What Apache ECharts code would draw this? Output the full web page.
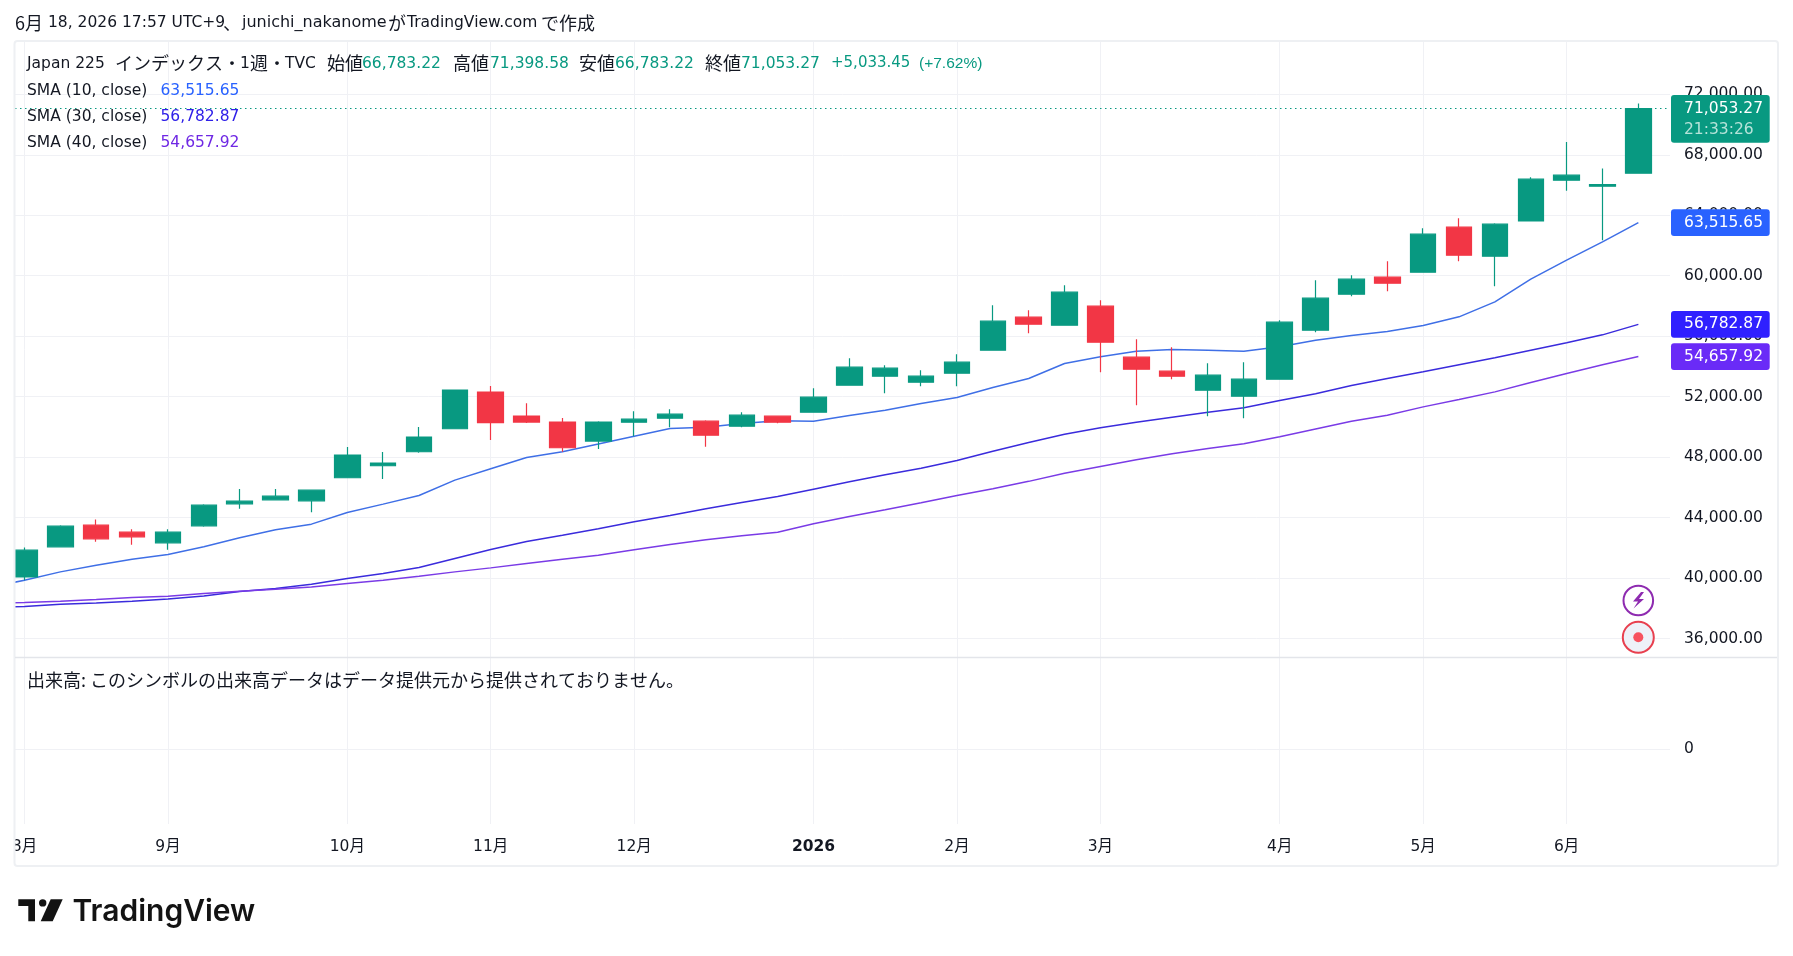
<!DOCTYPE html>
<html lang="ja">
<head>
<meta charset="utf-8">
<title>Japan 225 週足</title>
<script src="https://cdn.jsdelivr.net/npm/echarts@6/dist/echarts.min.js"></script>
<style>
  html, body { margin: 0; padding: 0; background: #fff; }
  #chart { width: 1793px; height: 956px; }
</style>
</head>
<body>
<div id="chart"></div>
<script>
// Weekly candles, oldest first
const opens = [40082,42069,43503,43040,42333,43459,44916,45180,45114,46637,47432,48358,49881,52309,50720,50323,49065,50313,50578,50379,50049,50710,50975,52761,53356,52959,53555,55076,57259,56730,57987,54613,53687,52430,52033,53158,56399,58781,59905,60236,63212,61294,63624,66320,65923,66783.22];
const closes = [41848,43437,42598,42730,43040,44827,45092,45423,45820,48138,47608,49330,52441,50279,50323,48623,50323,50512,50842,49453,50776,50313,51967,53951,53885,53356,54282,56994,56796,58913,55605,53819,53356,53422,53158,56928,58516,59773,59508,62749,61360,63411,66387,66652,66019.82,71053.27];
const lows = [39860,42069,42400,42200,41870,43393,44585,45180,44364,46637,46549,48292,49881,49131,50257,48358,48535,49387,49982,48681,49982,50247,50975,52761,52232,52695,52695,55076,56200,56730,53621,51438,53158,50710,50578,53158,56267,58648,58979,60236,60964,59310,63624,65613,62342,66783.22];
const highs = [42025,43503,43878,43238,43238,44893,45887,45887,45820,48668,48336,49992,52441,52706,51559,50588,50368,51041,51173,50445,50975,50710,52562,54547,54084,53753,54811,58053,57722,59376,58384,55803,55274,54216,54282,57060,59707,60037,60964,63146,63808,63477,66519,68840,67094,71398.58];

// Moving averages start one week before the first visible candle
const sma10 = [39376,39862,40413,40855,41252,41561,42069,42664,43194,43569,44342,44893,45467,46482,47233,47983,48358,48866,49387,49894,49982,50225,50401,50379,50754,51107,51548,51945,52606,53202,54194,54635,55010,55120,55076,55010,55297,55737,56046,56311,56708,57281,58273,59773,61030,62242,63515.65];
const sma30 = [38074,38118,38273,38361,38471,38626,38825,39111,39310,39597,39972,40303,40700,41296,41892,42421,42830,43270,43722,44141,44582,45001,45398,45883,46368,46831,47272,47779,48397,48970,49520,49940,50315,50646,50977,51263,51748,52200,52739,53202,53643,54106,54569,55076,55561,56090,56782.87];
const sma40 = [38361,38383,38471,38582,38714,38802,38979,39133,39266,39420,39641,39862,40127,40413,40678,40965,41252,41517,41870,42223,42532,42797,43039,43590,44075,44516,44979,45464,45905,46400,46930,47383,47824,48220,48573,48882,49350,49860,50379,50776,51327,51812,52319,52937,53532,54106,54657.92];

// Time axis: candle index of each month's first week, and its label
const monthWeeks = [0,4,9,13,17,22,26,30,35,39,43];
const monthLabels = ['8月','9月','10月','11月','12月','2026','2月','3月','4月','5月','6月'];
const priceTicks = [36000,40000,44000,48000,52000,56000,60000,64000,68000,72000];
const volumeTicks = [0];

// Price tags on the right edge
const tagValues = [63515.65,56782.87,54657.92,71053.27];
const tagColors = ['#2962ff','#2f20ff','#6a2bf7','#089981'];
const countdown = '21:33:26';

const UP = '#089981', DOWN = '#f23645', INK = '#131722', GRID = '#f0f1f5';
const FONT = '"DejaVu Sans","Noto Sans CJK JP",sans-serif';
const JP = '"Noto Sans CJK JP","DejaVu Sans",sans-serif';
const TEXT = 15.5, JPTEXT = 18;

const fmt = v => v.toLocaleString('en-US', { minimumFractionDigits: 2, maximumFractionDigits: 2 });

const candles = opens.map((o, i) => [i, o, closes[i], lows[i], highs[i]]);
const linePoints = arr => arr.map((v, i) => [i - 1, v]);

// One run of legend text; Japanese runs use their own family and size
function label(x, y, text, fill, size, family) {
  return {
    type: 'text', x, y, silent: true, z: 50,
    style: {
      text, fill: fill || INK, fontFamily: family || FONT, fontSize: size || TEXT,
      verticalAlign: 'middle', align: 'left'
    }
  };
}
const jp = (x, y, text, fill) => label(x, y, text, fill, JPTEXT, JP);

const graphics = [
  // keeps candles and the first month label inside the frame on the left
  { type: 'rect', silent: true, z: 40, shape: { x: 0, y: 42, width: 14.8, height: 824 }, style: { fill: '#fff' } },
  { type: 'rect', silent: true, z: 41, shape: { x: 14.5, y: 41, width: 1763.5, height: 825, r: 3 }, style: { fill: 'none', stroke: '#eef0f3', lineWidth: 2 } },
  { type: 'line', silent: true, z: 41, shape: { x1: 15, y1: 657.5, x2: 1777, y2: 657.5 }, style: { stroke: '#e3e5ea', lineWidth: 1.5 } },

  jp(15, 23, '6月'), label(48, 23, '18, 2026 17:57 UTC+9'), jp(223, 23, '、'),
  label(242, 23, 'junichi_nakanome', INK, 16), jp(388, 23, 'が'), label(407, 23, 'TradingView.com'), jp(541, 23, 'で作成'),

  label(27, 63.5, 'Japan 225'), jp(115, 63.5, 'インデックス・'), label(240, 63.5, '1'), jp(250, 63.5, '週・'), label(285, 63.5, 'TVC'),
  jp(327, 63.5, '始値'), label(362, 63.5, fmt(opens[45]), UP),
  jp(453, 63.5, '高値'), label(490, 63.5, fmt(highs[45]), UP),
  jp(579, 63.5, '安値'), label(615, 63.5, fmt(lows[45]), UP),
  jp(705, 63.5, '終値'), label(741, 63.5, fmt(closes[45]), UP),
  label(831, 63.5, '+5,033.45', UP, 15), label(919, 63.5, '(+7.62%)', UP, 15.5, '"Liberation Sans",sans-serif'),
  label(27, 90.5, 'SMA (10, close)'), label(160.5, 90.5, fmt(sma10[46]), '#2962ff'),
  label(27, 116.5, 'SMA (30, close)'), label(160.5, 116.5, fmt(sma30[46]), '#2f20e8'),
  label(27, 142.5, 'SMA (40, close)'), label(160.5, 142.5, fmt(sma40[46]), '#6f28e4'),
  jp(27, 680.5, '出来高: このシンボルの出来高データはデータ提供元から提供されておりません。'),

  // chart shortcut badges
  { type: 'circle', silent: true, z: 30, shape: { cx: 1638.3, cy: 600.5, r: 14.8 }, style: { fill: '#fff', stroke: '#8e2bb0', lineWidth: 2 } },
  { type: 'polygon', silent: true, z: 31, shape: { points: [[1641,592],[1633,601.5],[1638,601.5],[1633.5,608.5],[1644,599],[1639,599],[1644,592]] }, style: { fill: '#8e2bb0' } },
  { type: 'circle', silent: true, z: 30, shape: { cx: 1638.3, cy: 637.3, r: 15.5 }, style: { fill: '#eef1f8', stroke: '#e8404f', lineWidth: 2 } },
  { type: 'circle', silent: true, z: 31, shape: { cx: 1638.3, cy: 637.3, r: 5 }, style: { fill: '#f7525f' } },

  // wordmark
  { type: 'polygon', silent: true, shape: { points: [[18.3,899.3],[35,899.3],[35,921.3],[28.3,921.3],[28.3,906],[18.3,906]] }, style: { fill: '#131313' } },
  { type: 'circle', silent: true, shape: { cx: 42.7, cy: 902.9, r: 3.7 }, style: { fill: '#131313' } },
  { type: 'polygon', silent: true, shape: { points: [[50.7,899.3],[62.7,899.3],[52.7,921.3],[40.7,921.3]] }, style: { fill: '#131313' } },
  { type: 'text', x: 72.5, y: 927, silent: true, style: { text: 'TradingView', fill: '#131313', fontFamily: 'Inter, sans-serif', fontWeight: 600, fontSize: 30, verticalAlign: 'bottom', align: 'left', lineHeight: 30 } }
];

const renderTag = (params, api) => {
  const i = params.dataIndex;
  const y = api.coord([api.value(0), api.value(1)])[1];
  const isLast = i === tagValues.length - 1;
  const top = isLast ? y - 13.6 : y - 13.3;
  const height = isLast ? 47.7 : 26.7;
  const children = [
    { type: 'rect', shape: { x: 1671, y: top, width: 98.7, height, r: 3 }, style: { fill: tagColors[i] } },
    { type: 'text', style: { x: 1763, y: y, text: fmt(tagValues[i]), fill: '#fff', fontFamily: FONT, fontSize: TEXT, textAlign: 'right', textVerticalAlign: 'middle' } }
  ];
  if (isLast) {
    children.push({ type: 'text', style: { x: 1684, y: y + 21, text: countdown, fill: '#b5e3d9', fontFamily: FONT, fontSize: TEXT, textAlign: 'left', textVerticalAlign: 'middle' } });
  }
  return { type: 'group', children };
};

const smaSeries = (name, data, color) => ({
  name, type: 'line', data: linePoints(data), symbol: 'none', z: 2, clip: true,
  lineStyle: { color, width: 1.5 }, silent: true, animation: false
});

const option = {
  animation: false,
  backgroundColor: '#fff',
  textStyle: { fontFamily: FONT },
  grid: [
    { left: 15, right: 123, top: 42, height: 615 },
    { left: 15, right: 123, top: 657, height: 167 }
  ],
  xAxis: [
    {
      type: 'value', gridIndex: 0, min: -0.2649, max: 45.882, position: 'bottom',
      axisLine: { show: false }, axisLabel: { show: false },
      axisTick: { show: false, customValues: monthWeeks },
      splitLine: { show: true, lineStyle: { color: GRID, width: 1 } }
    },
    {
      type: 'value', gridIndex: 1, min: -0.2649, max: 45.882, position: 'bottom',
      axisLine: { show: false },
      axisTick: { show: false, customValues: monthWeeks },
      splitLine: { show: true, lineStyle: { color: GRID, width: 1 } },
      axisLabel: {
        show: true, customValues: monthWeeks, margin: 15, color: INK,
        fontFamily: FONT, fontSize: TEXT, hideOverlap: false,
        formatter: v => {
          const t = monthLabels[monthWeeks.indexOf(v)];
          return t === '2026' ? '{y|' + t + '}' : t;
        },
        rich: { y: { fontFamily: FONT, fontSize: TEXT, fontWeight: 'bold', color: INK } }
      }
    }
  ],
  yAxis: [
    {
      type: 'value', gridIndex: 0, position: 'right', min: 34783, max: 75459,
      axisLine: { show: false },
      axisTick: { show: false, customValues: priceTicks },
      splitLine: { show: true, lineStyle: { color: GRID, width: 1 } },
      axisLabel: { customValues: priceTicks, margin: 14, color: INK, fontFamily: FONT, fontSize: TEXT, formatter: v => fmt(v) }
    },
    {
      type: 'value', gridIndex: 1, position: 'right', min: -0.9, max: 1.1,
      axisLine: { show: false },
      axisTick: { show: false, customValues: volumeTicks },
      splitLine: { show: true, lineStyle: { color: GRID, width: 1 } },
      axisLabel: { customValues: volumeTicks, margin: 14, color: INK, fontFamily: FONT, fontSize: TEXT, formatter: v => String(v) }
    }
  ],
  series: [
    smaSeries('SMA (10, close)', sma10, '#3f6fe6'),
    smaSeries('SMA (30, close)', sma30, '#3a2bdc'),
    smaSeries('SMA (40, close)', sma40, '#7a3be6'),
    {
      name: 'Japan 225', type: 'candlestick', data: candles, z: 3, barWidth: 26, clip: true,
      encode: { x: 0, y: [1, 2, 3, 4] },
      itemStyle: { color: UP, color0: DOWN, borderColor: UP, borderColor0: DOWN, borderWidth: 1.2 },
      markLine: {
        silent: true, symbol: 'none', animation: false, z: 1,
        label: { show: false },
        lineStyle: { color: UP, type: [1.5, 3.5], width: 1 },
        data: [{ yAxis: closes[45] }]
      }
    },
    {
      name: 'tags', type: 'custom', z: 20, silent: true,
      data: tagValues.map(v => [45, v]),
      encode: { x: 0, y: 1 },
      renderItem: renderTag
    }
  ]
};

const chart = echarts.init(document.getElementById('chart'), null, { renderer: 'canvas', width: 1793, height: 956 });
option.graphic = { elements: graphics };
chart.setOption(option);
</script>
</body>
</html>
